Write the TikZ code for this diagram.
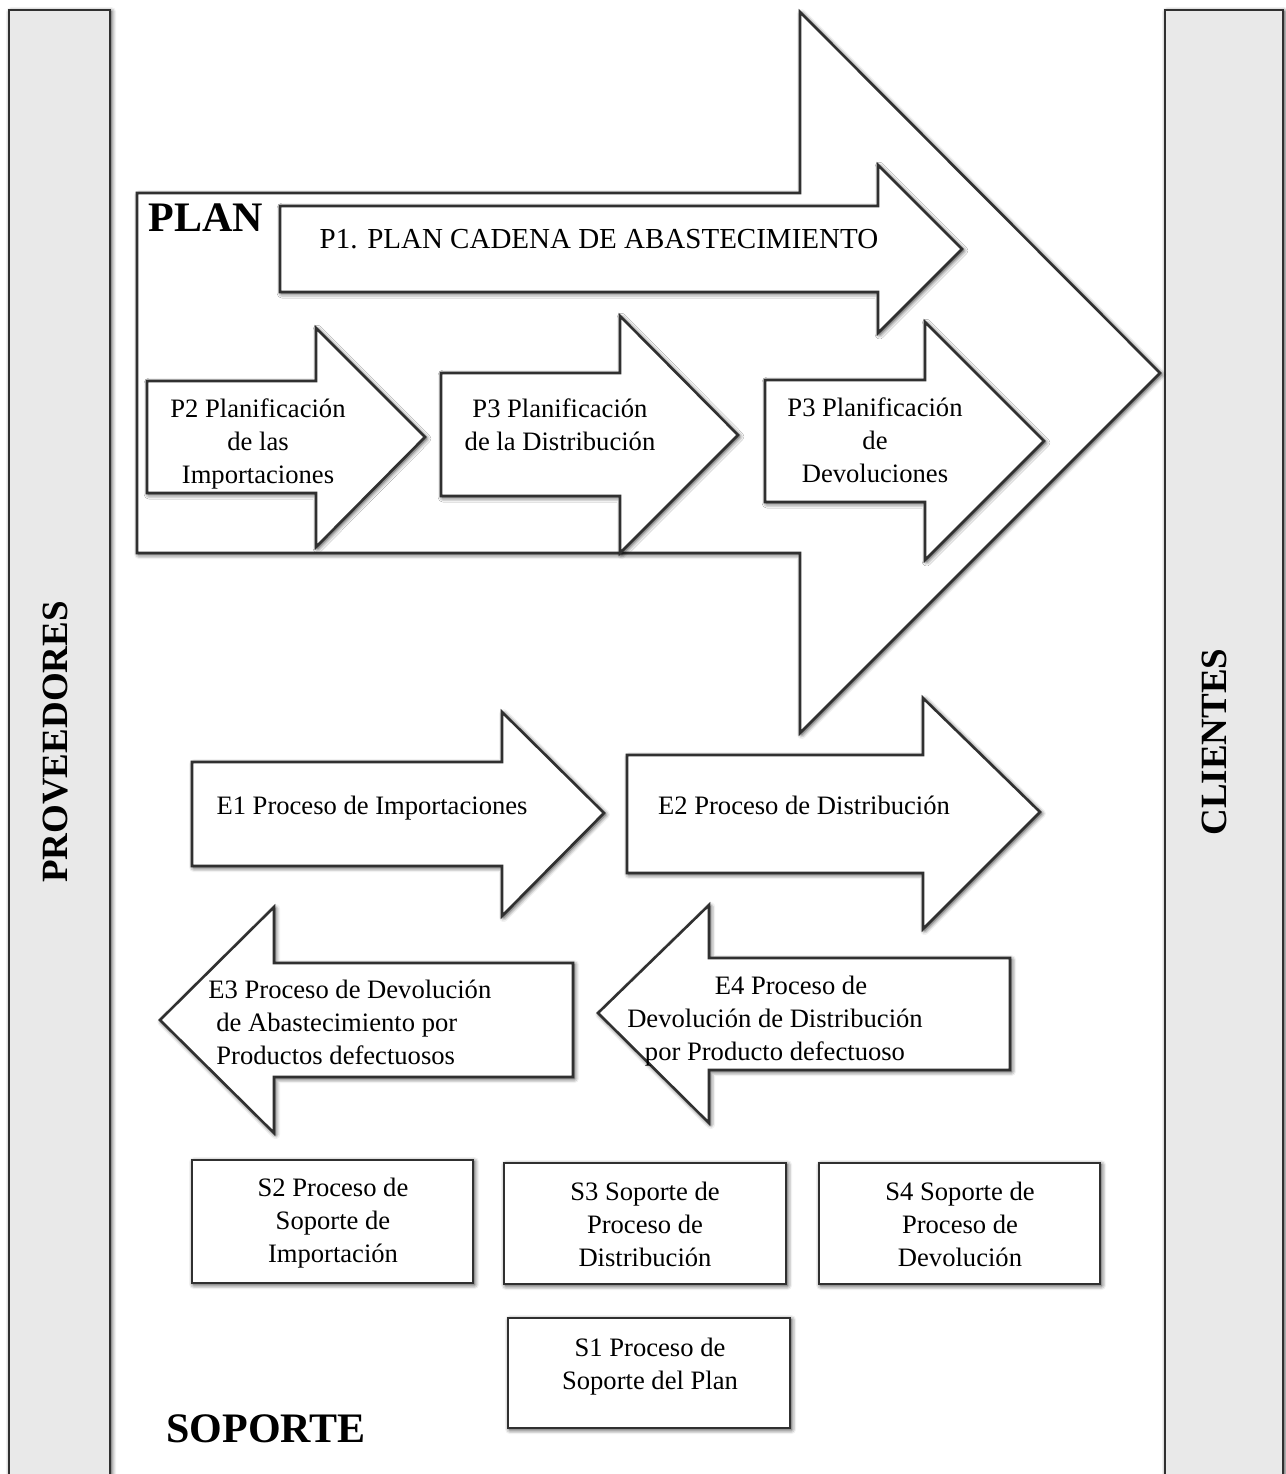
\documentclass[tikz,border=0pt]{standalone}
\usepackage{fontspec}
\setmainfont{Liberation Serif}
\usetikzlibrary{shadows.blur}

\definecolor{edge}{HTML}{303030}
\definecolor{barfill}{HTML}{E9E9E9}

\tikzset{
  piece/.style={draw=edge, line width=1.3pt, fill=white, line join=miter,
    blur shadow={shadow xshift=0.8pt, shadow yshift=-0.8pt,
                 shadow blur radius=2.2pt, shadow opacity=85}},
  sidebar/.style={piece, fill=barfill},
  txt/.style={font=\fontsize{13.3}{16.5}\selectfont, align=center, inner sep=0pt},
  heading/.style={font=\fontsize{21}{24}\selectfont\bfseries, inner sep=0pt},
  sidetitle/.style={font=\fontsize{18.5}{22}\selectfont\bfseries, inner sep=0pt, rotate=90},
}

% block arrow: body from x=#1 (top #2, bottom #3), head base at x=#4
% (head top #5, head bottom #6), tip at (#7,#8); works for both directions
\newcommand\blockarrow[8]{%
  \draw[piece] (#1,#2) -- (#4,#2) -- (#4,#5) -- (#7,#8) -- (#4,#6)
    -- (#4,#3) -- (#1,#3) -- cycle;}

\begin{document}
\begin{tikzpicture}[x=0.5pt, y=-0.5pt]
  \useasboundingbox (0,0) rectangle (1286,1474);

  % suppliers and customers
  \draw[sidebar] (9,10) rectangle (110,1500);
  \draw[sidebar] (1165,10) rectangle (1283,1500);
  \node[sidetitle] (prov) at (56,742) {PROVEEDORES};
  \node[sidetitle] (cli) at (1214,742) {CLIENTES};

  % PLAN block
  \blockarrow{137}{193}{553}{800}{12}{733}{1160}{373}
  \node[heading, anchor=base west] (plan) at (148,231) {PLAN};

  \blockarrow{280}{206}{292}{878}{165}{333}{962}{249}
  \node[txt, font=\fontsize{14.5}{17}\selectfont] (p1) at (599,239)
    {P1. PLAN CADENA DE ABASTECIMIENTO};

  \blockarrow{147}{381}{493}{316}{328}{547}{425}{437}
  \node[txt] (p2) at (258,444) {P2 Planificación\\de las\\Importaciones};

  \blockarrow{441}{373}{496}{620}{316}{553}{738}{435}
  \node[txt] (p3a) at (560,425) {P3 Planificación\\de la Distribución};

  \blockarrow{765}{380}{502}{925}{322}{560}{1044}{441}
  \node[txt] (p3b) at (875,440) {P3 Planificación\\de\\Devoluciones};

  % execution
  \blockarrow{192}{762}{866}{502}{712}{916}{604}{813}
  \node[txt] (e1) at (372,808) {E1 Proceso de Importaciones};

  \blockarrow{627}{755}{873}{923}{698}{929}{1040}{812}
  \node[txt] (e2) at (804,805) {E2 Proceso de Distribución};

  \blockarrow{573}{963}{1077}{274}{907}{1133}{160}{1020}
  \node[txt, align=left, anchor=west] (e3) at (208,1022)
    {E3 Proceso de Devolución\\\hspace*{4pt}de Abastecimiento por\\\hspace*{4pt}Productos defectuosos};

  \blockarrow{1010}{958}{1070}{709}{905}{1123}{598}{1013}
  \node[txt] (e4) at (775,1021)
    {\hspace*{16pt}E4 Proceso de\\Devolución de Distribución\\por Producto defectuoso};

  % support
  \draw[piece] (192,1160) rectangle (473,1283);
  \node[txt] (s2) at (333,1223) {S2 Proceso de\\Soporte de\\Importación};

  \draw[piece] (504,1163) rectangle (786,1284);
  \node[txt] (s3) at (645,1224) {S3 Soporte de\\Proceso de\\Distribución};

  \draw[piece] (819,1163) rectangle (1100,1284);
  \node[txt] (s4) at (960,1224) {S4 Soporte de\\Proceso de\\Devolución};

  \draw[piece] (508,1318) rectangle (790,1428);
  \node[txt] (s1) at (650,1367) {S1 Proceso de\\Soporte del Plan};

  \node[heading, anchor=base west] (soporte) at (166,1442) {SOPORTE};
\end{tikzpicture}
\end{document}
